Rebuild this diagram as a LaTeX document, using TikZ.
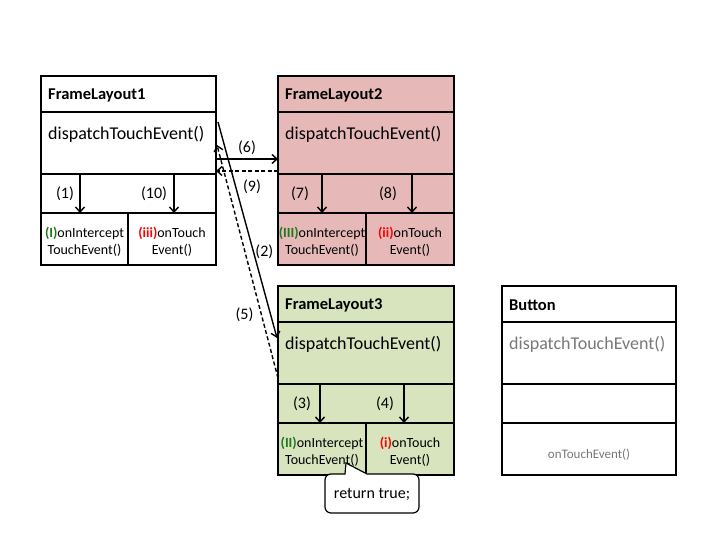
\documentclass[tikz,border=0pt]{standalone}
\usepackage{fontspec}
\setmainfont{Carlito}
\usetikzlibrary{arrows.meta}

\definecolor{pinkfill}{RGB}{230,185,184}
\definecolor{greenfill}{RGB}{215,228,189}
\definecolor{tagGreen}{RGB}{30,120,30}
\definecolor{tagRed}{RGB}{250,0,0}
\definecolor{mutedText}{RGB}{120,120,120}

% One stacked layout box: title, dispatch, arrow row, two method cells
% #1 name, #2 x, #3 y, #4 width, #5 left cell width, #6 right cell width, #7 fill
\newcommand{\layoutbox}[7]{%
  \node[cell, fill=#7, minimum width=#4pt, minimum height=36pt] (#1t) at (#2,#3) {};
  \node[cell, fill=#7, minimum width=#4pt, minimum height=62pt] (#1d) at (#1t.south west) {};
  \node[cell, fill=#7, minimum width=#4pt, minimum height=39pt] (#1a) at (#1d.south west) {};
  \node[cell, fill=#7, minimum width=#5pt, minimum height=52pt] (#1l) at (#1a.south west) {};
  \node[cell, fill=#7, minimum width=#6pt, minimum height=52pt] (#1r) at (#1l.north east) {};
}
% coloured, bold call-order tags
\newcommand{\gtag}[1]{\textcolor{tagGreen}{\bfseries #1}}
\newcommand{\rtag}[1]{\textcolor{tagRed}{\bfseries #1}}

\begin{document}
\begin{tikzpicture}[x=1pt, y=-1pt,
  cell/.style={draw, line width=1.6pt, inner sep=0pt, outer sep=0pt, anchor=north west},
  ttl/.style={font=\fontsize{16.5}{20}\selectfont\bfseries, inner sep=0pt, anchor=west},
  meth/.style={font=\fontsize{18}{20}\selectfont, inner sep=0pt, anchor=west},
  small/.style={font=\fontsize{14}{17}\selectfont, inner sep=0pt, align=center},
  lbl/.style={font=\fontsize{16}{18}\selectfont, inner sep=0pt},
  arr/.style={line width=1.4pt, -{Straight Barb[length=5pt, width=9pt]}},
  dsh/.style={dash pattern=on 4pt off 2.5pt}
]
\useasboundingbox (0,0) rectangle (720,540);

% boxes
\layoutbox{fa}{41}{76}{175}{87}{88}{white}
\layoutbox{fb}{278}{76}{176}{88}{88}{pinkfill}
\layoutbox{fc}{278}{286}{176}{88}{88}{greenfill}

% Button box
\node[cell, fill=white, minimum width=174pt, minimum height=36pt] (bt) at (502,286) {};
\node[cell, fill=white, minimum width=174pt, minimum height=62pt] (bd) at (bt.south west) {};
\node[cell, fill=white, minimum width=174pt, minimum height=39pt] (ba) at (bd.south west) {};
\node[cell, fill=white, minimum width=174pt, minimum height=52pt] (bl) at (ba.south west) {};

% titles
\node[ttl] (fatx) at ([xshift=7pt, yshift=-1pt]fat.west) {FrameLayout1};
\node[ttl] (fbtx) at ([xshift=7pt, yshift=-1pt]fbt.west) {FrameLayout2};
\node[ttl] (fctx) at ([xshift=7pt, yshift=-1pt]fct.west) {FrameLayout3};
\node[ttl] (bttx) at ([xshift=7pt, yshift=-1pt]bt.west) {Button};

% dispatch methods
\node[meth] (fadx) at ([xshift=7pt, yshift=-22pt]fad.north west) {dispatchTouchEvent()};
\node[meth] (fbdx) at ([xshift=7pt, yshift=-22pt]fbd.north west) {dispatchTouchEvent()};
\node[meth] (fcdx) at ([xshift=7pt, yshift=-22pt]fcd.north west) {dispatchTouchEvent()};
\node[meth, text=mutedText] (bdx) at ([xshift=7pt, yshift=-22pt]bd.north west) {dispatchTouchEvent()};

% method cells
\node[small] (falx) at ([yshift=-3pt]fal.center) {\gtag{(I)}onIntercept\\TouchEvent()};
\node[small] (farx) at ([yshift=-3pt]far.center) {\rtag{(iii)}onTouch\\Event()};
\node[small] (fblx) at ([yshift=-3pt]fbl.center) {\gtag{(III)}onIntercept\\TouchEvent()};
\node[small] (fbrx) at ([yshift=-3pt]fbr.center) {\rtag{(ii)}onTouch\\Event()};
\node[small] (fclx) at ([yshift=-3pt]fcl.center) {\gtag{(II)}onIntercept\\TouchEvent()};
\node[small] (fcrx) at ([yshift=-3pt]fcr.center) {\rtag{(i)}onTouch\\Event()};
\node[small, font=\fontsize{13}{15}\selectfont, text=mutedText] (blx) at ([yshift=-6pt]bl.center) {onTouchEvent()};

% arrows inside each box
\draw[arr] ([xshift=39pt]faa.north west) -- ([xshift=39pt]faa.south west);
\draw[arr] ([xshift=133pt]faa.north west) -- ([xshift=133pt]faa.south west);
\node[lbl] (n1) at ([xshift=24pt]faa.west) {(1)};
\node[lbl] (n10) at ([xshift=113pt]faa.west) {(10)};

\draw[arr] ([xshift=44pt]fba.north west) -- ([xshift=44pt]fba.south west);
\draw[arr] ([xshift=134pt]fba.north west) -- ([xshift=134pt]fba.south west);
\node[lbl] (n7) at ([xshift=22pt]fba.west) {(7)};
\node[lbl] (n8) at ([xshift=110pt]fba.west) {(8)};

\draw[arr] ([xshift=42pt]fca.north west) -- ([xshift=42pt]fca.south west);
\draw[arr] ([xshift=126pt]fca.north west) -- ([xshift=126pt]fca.south west);
\node[lbl] (n3) at ([xshift=24pt]fca.west) {(3)};
\node[lbl] (n4) at ([xshift=107pt]fca.west) {(4)};

% connectors between boxes
\draw[arr] ([yshift=15pt]fad.south east) -- ([yshift=15pt]fbd.south west)
  node[lbl, midway, yshift=11pt] (n6) {(6)};
\draw[arr, dsh] ([yshift=3pt]fbd.south west) -- ([yshift=3pt]fad.south east)
  node[lbl, midway, xshift=5pt, yshift=-16pt] (n9) {(9)};
\draw[arr] ([xshift=2pt, yshift=-10pt]fad.north east) -- ([xshift=-1pt, yshift=15pt]fcd.west)
  node[lbl, pos=0.6, xshift=11pt] (n2) {(2)};
\draw[arr, dsh] ([yshift=6pt]fcd.south west) -- ([xshift=1pt, yshift=-33pt]fad.north east)
  node[lbl, pos=0.27, xshift=-17pt] (n5) {(5)};

% callout
\draw[line width=1.2pt, fill=white, rounded corners=6pt]
  (345,474) -- (325,474) -- (325,513) -- (419,513) -- (419,474) [sharp corners] -- (367,474) -- (346,463) -- cycle;
\node[lbl] (ret) at (372,494) {return true;};
\end{tikzpicture}
\end{document}
